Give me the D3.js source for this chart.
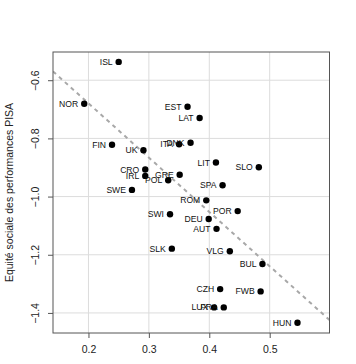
<!DOCTYPE html>
<html><head><meta charset="utf-8">
<script src="https://cdn.jsdelivr.net/npm/d3@7"></script>
<style>body{margin:0;background:#fff}svg{display:block}</style>
</head><body>
<svg id="c" width="356" height="364"></svg>
<script>
const codes = ["ISL","NOR","FIN","UK","EST","LAT","DNK","ITA","LIT","SLO","CRO","IRL","GRE","POL","SWE","SPA","ROM","POR","DEU","AUT","SWI","SLK","VLG","BUL","CZH","FWB","LUX","FRA","HUN"];
const xVals = [0.250,0.193,0.239,0.291,0.364,0.384,0.369,0.350,0.411,0.482,0.294,0.294,0.351,0.332,0.272,0.422,0.395,0.447,0.399,0.412,0.335,0.338,0.434,0.488,0.418,0.485,0.408,0.424,0.546];
const yVals = [-0.537,-0.681,-0.822,-0.841,-0.691,-0.730,-0.815,-0.820,-0.883,-0.899,-0.907,-0.929,-0.925,-0.944,-0.977,-0.961,-1.013,-1.050,-1.077,-1.111,-1.061,-1.179,-1.188,-1.232,-1.318,-1.326,-1.381,-1.381,-1.434];
const xTicks = [0.2,0.3,0.4,0.5];
const yTicks = [-0.6,-0.8,-1.0,-1.2,-1.4];
const trendIntercept = -0.306, trendSlope = -1.867;
const yTitle = "Equité sociale des performances PISA";

const L=53, R=329.5, T=52, B=333;
const x = d3.scaleLinear().domain([0.1413,0.599]).range([L,R]);
const y = d3.scaleLinear().domain([-1.469,-0.503]).range([B,T]);
const svg = d3.select("#c");
const font = "'Liberation Sans', Arial, Helvetica, sans-serif";

// grid
const g = svg.append("g");
g.selectAll("line.gx").data(xTicks).enter().append("line")
  .attr("x1",d=>x(d)).attr("x2",d=>x(d)).attr("y1",T).attr("y2",B)
  .attr("stroke","#dcdcdc").attr("stroke-width",1);
g.selectAll("line.gy").data(yTicks).enter().append("line")
  .attr("y1",d=>y(d)).attr("y2",d=>y(d)).attr("x1",L).attr("x2",R)
  .attr("stroke","#dcdcdc").attr("stroke-width",1);

// trend line clipped
svg.append("clipPath").attr("id","clip").append("rect").attr("x",L).attr("y",T).attr("width",R-L).attr("height",B-T);
const xd = x.domain();
svg.append("line").attr("clip-path","url(#clip)")
  .attr("x1",x(xd[0])).attr("y1",y(trendIntercept+trendSlope*xd[0]))
  .attr("x2",x(xd[1])).attr("y2",y(trendIntercept+trendSlope*xd[1]))
  .attr("stroke","#a8a8a8").attr("stroke-width",2).attr("stroke-dasharray","4,4");

// box
svg.append("rect").attr("x",L).attr("y",T).attr("width",R-L).attr("height",B-T)
  .attr("fill","none").attr("stroke","#555").attr("stroke-width",1);

// axes
const xAxis = d3.axisBottom(x).tickValues(xTicks).tickSize(5).tickFormat(d3.format(".1f")).tickPadding(8);
const ax = svg.append("g").attr("transform",`translate(0,${B})`).call(xAxis);
ax.select(".domain").remove();
ax.selectAll("line").attr("stroke","#555");
ax.selectAll("text").attr("font-family",font).attr("font-size","10.5px").attr("fill","#222");

const yAxis = d3.axisLeft(y).tickValues(yTicks).tickSize(5).tickFormat(d=>d3.format(".1f")(d).replace("-","\u2212"));
const ay = svg.append("g").attr("transform",`translate(${L},0)`).call(yAxis);
ay.select(".domain").remove();
ay.selectAll("line").attr("stroke","#555");
ay.selectAll("text").attr("x",null).attr("dy",null)
  .attr("transform","translate(-18,0) rotate(-90)").attr("text-anchor","middle").attr("dominant-baseline","central")
  .attr("font-family",font).attr("font-size","10.5px").attr("fill","#222");

// y title
svg.append("text").attr("transform",`translate(9,${(T+B)/2}) rotate(-90)`)
  .attr("text-anchor","middle").attr("dominant-baseline","central")
  .attr("font-family",font).attr("font-size","10.5px").attr("fill","#222").text(yTitle);

// points
const data = codes.map((c,i)=>({c,x:xVals[i],y:yVals[i]}));
svg.append("g").selectAll("circle").data(data).enter().append("circle")
  .attr("cx",d=>x(d.x)).attr("cy",d=>y(d.y)).attr("r",3.2).attr("fill","#000");
svg.append("g").selectAll("text").data(data).enter().append("text")
  .attr("x",d=>x(d.x)-6).attr("y",d=>y(d.y)).attr("text-anchor","end").attr("dominant-baseline","central")
  .attr("font-family",font).attr("font-size","8.6px").attr("fill","#111").text(d=>d.c);
</script>
</body></html>
